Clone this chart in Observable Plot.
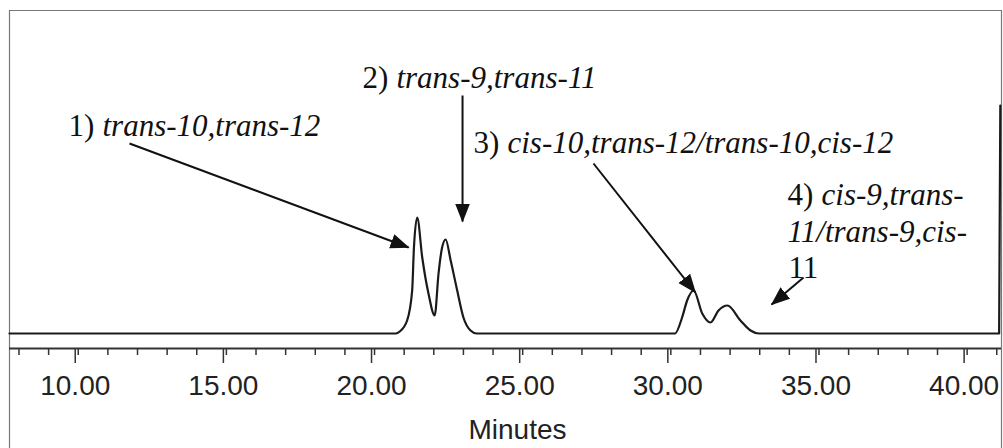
<!DOCTYPE html>
<html>
<head>
<meta charset="utf-8">
<script src="https://cdn.jsdelivr.net/npm/d3@7"></script>
<script src="https://cdn.jsdelivr.net/npm/@observablehq/plot@0.6"></script>
<style>
  html, body { margin: 0; padding: 0; background: #fff; }
  #chart svg { display: block; }
</style>
</head>
<body>
<div id="chart"></div>
<script>
// ---- Data ----
const times  = [7.68, 20.72, 20.85, 21.10, 21.27, 21.33, 21.44, 21.61, 21.82, 22.03, 22.16, 22.28, 22.40, 22.57, 22.79, 23.00, 23.24, 23.45,
                30.14, 30.38, 30.55, 30.77, 31.06, 31.34, 31.61, 31.91, 32.35, 32.69, 32.98, 41.08, 41.12];
const signal = [0, 0, 2, 13, 43, 86, 116, 76, 40, 18, 60, 86, 94, 73, 43, 16, 3, 0,
                0, 16, 33, 43, 20, 11, 23, 28, 13, 3, 0, 0, 228];

const majorTicks = [10, 15, 20, 25, 30, 35, 40];
const minorTicks = d3.range(8, 42);
const xLabel = "Minutes";

// Peak annotations (label anchor in data units, numbering + isomer name)
const annNum  = ["1)", "2)", "3)", "4)"];
const annName = ["trans-10,trans-12", "trans-9,trans-11", "cis-10,trans-12/trans-10,cis-12", "cis-9,trans-"];
const annT    = [9.67, 19.59, 23.34, 33.94];
const annV    = [198, 246, 181, 129];
// continuation lines of label 4
const extraText   = ["11/trans-9,cis-", "11"];
const extraItalic = [true, false];
const extraT      = [33.94, 33.97];
const extraV      = [92, 56];

// Arrows: from (t1,v1) to tip (t2,v2)
const arrT1 = [11.73, 22.97, 27.39, 34.48];
const arrV1 = [190, 238, 170, 56];
const arrT2 = [21.15, 22.97, 30.83, 33.40];
const arrV2 = [86, 112, 41, 29];

// ---- Build tables ----
const trace = times.map((t, i) => ({t, v: signal[i]}));
const anns = annNum.map((n, i) => ({t: annT[i], v: annV[i], num: n, name: annName[i]}));
const extras = extraText.map((s, i) => ({t: extraT[i], v: extraV[i], text: s, italic: extraItalic[i]}));
const arrows = arrT1.map((t, i) => ({t1: t, v1: arrV1[i], t2: arrT2[i], v2: arrV2[i]}));

const xDomain = [7.68, 41.16];
const yDomain = [-15, 323];

const serif = "'Times New Roman', Times, 'Liberation Serif', 'DejaVu Serif', 'Noto Serif', 'Nimbus Roman', FreeSerif, Tinos, Georgia, serif";
const sans = "'Liberation Sans', Arial, sans-serif";

function filledArrow(color) {
  const m = d3.create("svg:marker")
    .attr("viewBox", "-18 -8 19 16")
    .attr("markerWidth", 19)
    .attr("markerHeight", 16)
    .attr("markerUnits", "userSpaceOnUse")
    .attr("refX", 0)
    .attr("refY", 0)
    .attr("orient", "auto")
    .attr("fill", color)
    .attr("stroke", "none");
  m.append("path").attr("d", "M-18,-7.5L1,0L-18,7.5Z");
  return m.node();
}

function build(useMarker) {
  const arrowMark = useMarker
    ? Plot.link(arrows, {x1: "t1", y1: "v1", x2: "t2", y2: "v2", stroke: "#111", strokeWidth: 2, markerEnd: filledArrow})
    : Plot.arrow(arrows, {x1: "t1", y1: "v1", x2: "t2", y2: "v2", stroke: "#111", strokeWidth: 2.5, headLength: 16, headAngle: 50});
  const annStyle = {textAnchor: "start", lineAnchor: "bottom", fontSize: 31, fontFamily: serif, fill: "#111"};
  return Plot.plot({
    width: 1003,
    height: 448,
    marginLeft: 9,
    marginRight: 2,
    marginTop: 10,
    marginBottom: 100,
    x: {domain: xDomain, label: null, axis: null},
    y: {domain: yDomain, axis: null},
    style: {background: "#fff", color: "#222", overflow: "visible"},
    marks: [
      // outer frame
      Plot.ruleX(xDomain, {y1: yDomain[1], y2: -130, stroke: "#777", strokeWidth: 1.2}),
      Plot.ruleY([yDomain[1]], {stroke: "#777", strokeWidth: 1.2}),
      // axis line
      Plot.ruleY([yDomain[0]], {stroke: "#333", strokeWidth: 1.8}),
      Plot.axisX(minorTicks, {tickSize: 7, tickFormat: () => "", label: null, stroke: "#333", strokeWidth: 1.5}),
      Plot.axisX(majorTicks, {tickSize: 15, tickPadding: 12, tickFormat: d3.format(".2f"), label: null,
        fontSize: 28, fontFamily: sans, fill: "#222", stroke: "#333", strokeWidth: 1.5, dx: -3}),
      Plot.text([xLabel], {frameAnchor: "bottom", text: d => d, dx: 12, dy: 90, lineAnchor: "bottom",
        fontSize: 28, fontFamily: sans, fill: "#222"}),
      // chromatogram trace
      Plot.line(trace, {x: "t", y: "v", curve: "monotone-x", stroke: "#1a1a1a", strokeWidth: 2.2}),
      // annotations
      arrowMark,
      Plot.text(anns, {x: "t", y: "v", text: "num", ...annStyle}),
      Plot.text(anns, {x: "t", y: "v", text: "name", dx: 34, fontStyle: "italic", ...annStyle}),
      Plot.text(extras.filter(d => d.italic), {x: "t", y: "v", text: "text", fontStyle: "italic", ...annStyle}),
      Plot.text(extras.filter(d => !d.italic), {x: "t", y: "v", text: "text", ...annStyle})
    ]
  });
}

let chart;
try { chart = build(true); } catch (e) { chart = build(false); }
d3.select(chart).selectAll('g[font-size="31"] text').style("font-family", serif);
document.getElementById("chart").append(chart);
</script>
</body>
</html>
